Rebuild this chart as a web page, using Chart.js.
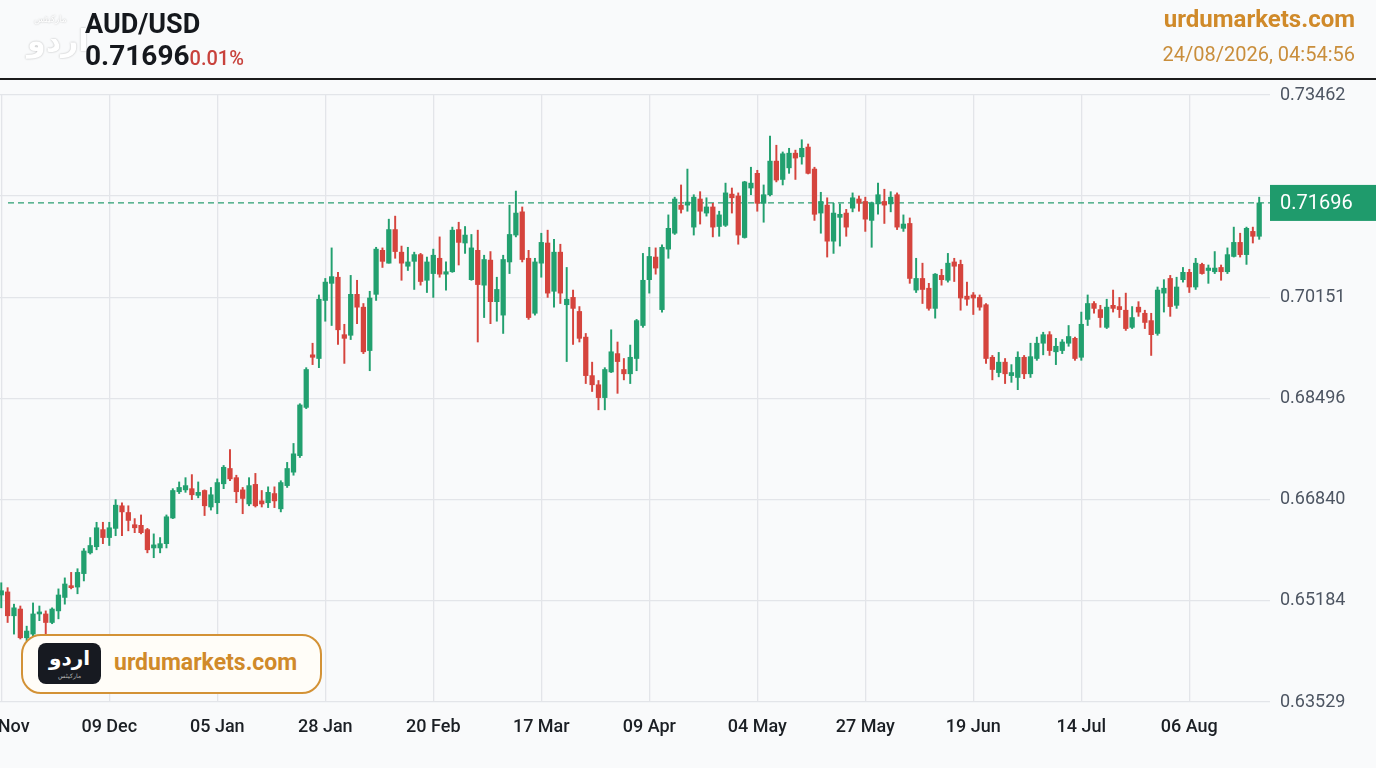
<!DOCTYPE html>
<html>
<head>
<meta charset="utf-8">
<script src="https://cdn.jsdelivr.net/npm/chart.js@4.4.1/dist/chart.umd.min.js"></script>
<style>
  html, body { margin: 0; padding: 0; background: #f9fafb; }
  body { width: 1376px; height: 768px; position: relative; overflow: hidden; font-family: Roboto, "Noto Sans", sans-serif; }
  #chart { position: absolute; left: 0; top: 0; }
  .abs { position: absolute; white-space: nowrap; }
  #logoTop { left: 27px; top: 14px; width: 46px; text-align: center; color: #ffffff; text-shadow: 0 0 2px rgba(0,0,0,0.3); }
  #logoTop i { display: block; font: normal 9px "Noto Sans", sans-serif; line-height: 10px; }
  #logoTop b { display: block; font: 700 30px "Noto Sans", "DejaVu Sans", sans-serif; line-height: 32px; }
  #pair { left: 85px; top: 8px; font-weight: 700; font-size: 27px; color: #15181d; }
  #price { left: 85px; top: 39px; font-weight: 700; font-size: 28px; color: #15181d; }
  #price span { font-size: 20px; font-weight: 500; color: #c8423c; }
  #rule { left: 0; top: 78px; width: 1376px; height: 2px; background: #1c1c1c; }
  #site { right: 21px; top: 5px; font-weight: 700; font-size: 24px; color: #d08a2a; }
  #stamp { right: 21px; top: 42px; font-size: 20px; color: #c98e3c; }
  #badge { left: 21px; top: 634px; width: 297px; height: 56px; border: 2px solid #d39236; border-radius: 20px; background: #fffdf8; }
  #badge .mark { position: absolute; left: 15px; top: 7px; width: 63px; height: 41px; border-radius: 8px; background: #171a21; color: #fff; text-align: center; }
  #badge .mark b { display: block; font: 700 20px "Noto Sans", "DejaVu Sans", sans-serif; line-height: 30px; }
  #badge .mark i { display: block; font: normal 6px "Noto Sans", sans-serif; color: #bbb; line-height: 6px; }
  #badge .txt { position: absolute; left: 91px; top: 13px; font-weight: 700; font-size: 23px; color: #d08a2a; }
</style>
</head>
<body>
<canvas id="chart" width="1376" height="768"></canvas>
<div class="abs" id="logoTop"><i>مارکیٹس</i><b>اردو</b></div>
<div class="abs" id="pair">AUD/USD</div>
<div class="abs" id="price">0.71696<span>0.01%</span></div>
<div class="abs" id="rule"></div>
<div class="abs" id="site">urdumarkets.com</div>
<div class="abs" id="stamp">24/08/2026, 04:54:56</div>
<div class="abs" id="badge">
  <div class="mark"><b>اردو</b><i>مارکیٹس</i></div>
  <div class="txt">urdumarkets.com</div>
</div>

<script>
// daily candles, 14 Nov 2025 -> 21 Aug 2026
var opens = [
  0.6528, 0.6533, 0.6494, 0.6505, 0.6458, 0.6464, 0.6497, 0.6497, 0.6483, 0.6502,
  0.6524, 0.6543, 0.6541, 0.6563, 0.6597, 0.6607, 0.6635, 0.6622, 0.6637, 0.6674,
  0.6663, 0.6643, 0.6642, 0.6635, 0.6605, 0.6605, 0.6612, 0.6654, 0.6697, 0.6700,
  0.6702, 0.6691, 0.6699, 0.6672, 0.6679, 0.6710, 0.6735, 0.6720, 0.6700, 0.6677,
  0.6709, 0.6682, 0.6679, 0.6694, 0.6669, 0.6707, 0.6729, 0.6756, 0.6835, 0.6921,
  0.6915, 0.7010, 0.7038, 0.7048, 0.6954, 0.6953, 0.7020, 0.6999, 0.6928, 0.7020,
  0.7092, 0.7071, 0.7126, 0.7089, 0.7066, 0.7074, 0.7085, 0.7043, 0.7054, 0.7079,
  0.7053, 0.7057, 0.7126, 0.7104, 0.7044, 0.7092, 0.7035, 0.7076, 0.7008, 0.6986,
  0.7073, 0.7117, 0.7155, 0.7079, 0.6989, 0.7071, 0.7104, 0.7025, 0.7089, 0.7003,
  0.7015, 0.6992, 0.6950, 0.6887, 0.6872, 0.6851, 0.6893, 0.6923, 0.6897, 0.6890,
  0.6915, 0.6969, 0.7044, 0.7081, 0.6995, 0.7094, 0.7120, 0.7166, 0.7166, 0.7130,
  0.7176, 0.7153, 0.7163, 0.7131, 0.7133, 0.7184, 0.7181, 0.7113, 0.7194, 0.7218,
  0.7169, 0.7183, 0.7238, 0.7208, 0.7227, 0.7251, 0.7245, 0.7261, 0.7225, 0.7153,
  0.7166, 0.7107, 0.7146, 0.7153, 0.7161, 0.7176, 0.7172, 0.7141, 0.7168, 0.7172,
  0.7168, 0.7183, 0.7128, 0.7136, 0.7027, 0.7046, 0.7030, 0.6997, 0.7051, 0.7043,
  0.7073, 0.7069, 0.7017, 0.7019, 0.7015, 0.7003, 0.6917, 0.6892, 0.6909, 0.6887,
  0.6884, 0.6917, 0.6890, 0.6915, 0.6940, 0.6954, 0.6926, 0.6928, 0.6940, 0.6948,
  0.6917, 0.6979, 0.7005, 0.6995, 0.6966, 0.7002, 0.7000, 0.6994, 0.6966, 0.6999,
  0.6989, 0.6977, 0.6956, 0.7022, 0.7046, 0.7002, 0.7044, 0.7056, 0.7032, 0.7069,
  0.7059, 0.7057, 0.7064, 0.7057, 0.7082, 0.7105, 0.7085, 0.7123, 0.7115
];
var highs = [
  0.6548, 0.6540, 0.6513, 0.6510, 0.6477, 0.6515, 0.6510, 0.6502, 0.6507, 0.6538,
  0.6556, 0.6565, 0.6571, 0.6604, 0.6622, 0.6647, 0.6647, 0.6647, 0.6684, 0.6679,
  0.6674, 0.6653, 0.6659, 0.6637, 0.6628, 0.6622, 0.6659, 0.6702, 0.6713, 0.6720,
  0.6725, 0.6713, 0.6700, 0.6704, 0.6718, 0.6740, 0.6766, 0.6724, 0.6704, 0.6720,
  0.6727, 0.6699, 0.6705, 0.6705, 0.6715, 0.6745, 0.6776, 0.6841, 0.6900, 0.6940,
  0.7019, 0.7046, 0.7096, 0.7056, 0.6971, 0.7051, 0.7043, 0.7005, 0.7025, 0.7097,
  0.7096, 0.7143, 0.7148, 0.7099, 0.7097, 0.7089, 0.7087, 0.7081, 0.7094, 0.7114,
  0.7073, 0.7130, 0.7138, 0.7131, 0.7118, 0.7125, 0.7084, 0.7090, 0.7048, 0.7084,
  0.7166, 0.7189, 0.7163, 0.7092, 0.7079, 0.7120, 0.7125, 0.7110, 0.7102, 0.7064,
  0.7027, 0.7000, 0.6956, 0.6909, 0.6879, 0.6900, 0.6962, 0.6942, 0.6915, 0.6937,
  0.6979, 0.7087, 0.7097, 0.7096, 0.7101, 0.7150, 0.7179, 0.7199, 0.7225, 0.7183,
  0.7188, 0.7178, 0.7169, 0.7156, 0.7202, 0.7194, 0.7186, 0.7205, 0.7228, 0.7223,
  0.7199, 0.7279, 0.7264, 0.7253, 0.7259, 0.7256, 0.7273, 0.7266, 0.7228, 0.7187,
  0.7178, 0.7169, 0.7168, 0.7159, 0.7186, 0.7181, 0.7179, 0.7171, 0.7202, 0.7192,
  0.7188, 0.7186, 0.7150, 0.7145, 0.7079, 0.7071, 0.7038, 0.7054, 0.7061, 0.7087,
  0.7079, 0.7076, 0.7040, 0.7023, 0.7019, 0.7005, 0.6920, 0.6925, 0.6915, 0.6905,
  0.6926, 0.6920, 0.6940, 0.6950, 0.6958, 0.6959, 0.6948, 0.6946, 0.6969, 0.6950,
  0.6991, 0.7019, 0.7008, 0.7002, 0.7012, 0.7027, 0.7015, 0.7022, 0.7000, 0.7008,
  0.6994, 0.6989, 0.7032, 0.7044, 0.7051, 0.7048, 0.7064, 0.7061, 0.7079, 0.7071,
  0.7068, 0.7090, 0.7068, 0.7096, 0.7130, 0.7120, 0.7130, 0.7130, 0.7179
];
var lows = [
  0.6507, 0.6483, 0.6464, 0.6456, 0.6453, 0.6458, 0.6486, 0.6464, 0.6481, 0.6489,
  0.6513, 0.6538, 0.6530, 0.6551, 0.6595, 0.6602, 0.6612, 0.6609, 0.6625, 0.6625,
  0.6633, 0.6630, 0.6628, 0.6597, 0.6589, 0.6597, 0.6605, 0.6653, 0.6694, 0.6696,
  0.6684, 0.6687, 0.6658, 0.6667, 0.6661, 0.6702, 0.6715, 0.6679, 0.6661, 0.6674,
  0.6672, 0.6672, 0.6671, 0.6671, 0.6664, 0.6704, 0.6724, 0.6753, 0.6833, 0.6905,
  0.6900, 0.6976, 0.6969, 0.6938, 0.6907, 0.6946, 0.6972, 0.6923, 0.6895, 0.7010,
  0.7064, 0.7071, 0.7079, 0.7043, 0.7059, 0.7028, 0.7035, 0.7023, 0.7015, 0.7048,
  0.7027, 0.7056, 0.7068, 0.7087, 0.7043, 0.6942, 0.6982, 0.6972, 0.6976, 0.6956,
  0.7054, 0.7114, 0.7073, 0.6979, 0.6986, 0.7048, 0.7015, 0.6999, 0.7005, 0.6910,
  0.6938, 0.6942, 0.6874, 0.6861, 0.6831, 0.6831, 0.6892, 0.6858, 0.6880, 0.6874,
  0.6895, 0.6966, 0.7022, 0.7053, 0.6991, 0.7079, 0.7118, 0.7153, 0.7156, 0.7117,
  0.7135, 0.7148, 0.7114, 0.7115, 0.7131, 0.7153, 0.7102, 0.7112, 0.7183, 0.7156,
  0.7138, 0.7181, 0.7204, 0.7199, 0.7218, 0.7208, 0.7233, 0.7217, 0.7141, 0.7120,
  0.7081, 0.7087, 0.7099, 0.7115, 0.7155, 0.7156, 0.7123, 0.7097, 0.7151, 0.7136,
  0.7155, 0.7126, 0.7123, 0.7038, 0.7023, 0.7005, 0.6994, 0.6981, 0.7035, 0.7040,
  0.7041, 0.6994, 0.7002, 0.6987, 0.6994, 0.6907, 0.6880, 0.6885, 0.6874, 0.6876,
  0.6864, 0.6882, 0.6884, 0.6912, 0.6921, 0.6920, 0.6905, 0.6923, 0.6935, 0.6912,
  0.6912, 0.6969, 0.6989, 0.6966, 0.6964, 0.6991, 0.6982, 0.6961, 0.6964, 0.6984,
  0.6964, 0.6920, 0.6953, 0.6991, 0.6984, 0.6997, 0.7040, 0.7023, 0.7028, 0.7053,
  0.7038, 0.7054, 0.7043, 0.7054, 0.7081, 0.7081, 0.7069, 0.7104, 0.7110
];
var closes = [
  0.6535, 0.6494, 0.6507, 0.6458, 0.6469, 0.6497, 0.6500, 0.6483, 0.6505, 0.6528,
  0.6546, 0.6540, 0.6565, 0.6600, 0.6609, 0.6638, 0.6622, 0.6638, 0.6675, 0.6664,
  0.6650, 0.6638, 0.6630, 0.6602, 0.6610, 0.6612, 0.6656, 0.6699, 0.6704, 0.6707,
  0.6692, 0.6696, 0.6674, 0.6692, 0.6712, 0.6737, 0.6718, 0.6697, 0.6686, 0.6707,
  0.6674, 0.6677, 0.6696, 0.6682, 0.6712, 0.6735, 0.6759, 0.6839, 0.6897, 0.6917,
  0.7012, 0.7040, 0.7049, 0.6962, 0.6948, 0.7020, 0.6999, 0.6926, 0.7014, 0.7094,
  0.7074, 0.7126, 0.7090, 0.7071, 0.7073, 0.7085, 0.7041, 0.7073, 0.7084, 0.7053,
  0.7057, 0.7125, 0.7105, 0.7117, 0.7096, 0.7036, 0.7077, 0.7008, 0.7028, 0.7077,
  0.7118, 0.7153, 0.7077, 0.6982, 0.7073, 0.7105, 0.7022, 0.7089, 0.7022, 0.7012,
  0.6997, 0.6948, 0.6887, 0.6872, 0.6851, 0.6897, 0.6926, 0.6910, 0.6890, 0.6917,
  0.6977, 0.7043, 0.7082, 0.7063, 0.7097, 0.7128, 0.7176, 0.7159, 0.7171, 0.7179,
  0.7156, 0.7163, 0.7130, 0.7150, 0.7186, 0.7178, 0.7117, 0.7204, 0.7202, 0.7169,
  0.7183, 0.7238, 0.7207, 0.7250, 0.7251, 0.7243, 0.7259, 0.7218, 0.7151, 0.7172,
  0.7107, 0.7153, 0.7151, 0.7130, 0.7178, 0.7169, 0.7143, 0.7169, 0.7183, 0.7166,
  0.7179, 0.7130, 0.7135, 0.7046, 0.7046, 0.7028, 0.6997, 0.7053, 0.7044, 0.7071,
  0.7066, 0.7014, 0.7012, 0.7014, 0.6999, 0.6915, 0.6897, 0.6909, 0.6890, 0.6892,
  0.6917, 0.6890, 0.6918, 0.6940, 0.6954, 0.6928, 0.6935, 0.6942, 0.6951, 0.6915,
  0.6971, 0.7005, 0.6997, 0.6982, 0.6999, 0.6997, 0.6995, 0.6964, 0.6982, 0.6991,
  0.6974, 0.6954, 0.7027, 0.7030, 0.7000, 0.7032, 0.7056, 0.7032, 0.7071, 0.7054,
  0.7063, 0.7063, 0.7057, 0.7085, 0.7105, 0.7085, 0.7128, 0.7115, 0.71696
];

// x axis: one label every 17 trading days
var tickLabels = ['14 Nov', '09 Dec', '05 Jan', '28 Jan', '20 Feb', '17 Mar', '09 Apr', '04 May', '27 May', '19 Jun', '14 Jul', '06 Aug'];
var tickStep = 17;
// y axis
var yTicks = [0.63529, 0.65184, 0.66840, 0.68496, 0.70151, 0.71807, 0.73462];
var yTickLabels = ['0.63529', '0.65184', '0.66840', '0.68496', '0.70151', '0.71807', '0.73462'];
var lastPrice = 0.71696;

var UP = '#22a06f';
var DOWN = '#d5443d';

var colors = opens.map(function (o, i) { return closes[i] >= o ? UP : DOWN; });
var bodies = opens.map(function (o, i) { return { x: i, y: [o, closes[i]] }; });
var wicks = opens.map(function (o, i) { return { x: i, y: [lows[i], highs[i]] }; });

// dashed last-price line + price tag on the axis
var lastPricePlugin = {
  id: 'lastPrice',
  beforeDatasetsDraw: function (chart) {
    var ctx = chart.ctx, area = chart.chartArea;
    var y = chart.scales.y.getPixelForValue(lastPrice);
    ctx.save();
    ctx.strokeStyle = '#2a9d72';
    ctx.lineWidth = 1.3;
    ctx.setLineDash([6, 4]);
    ctx.beginPath();
    ctx.moveTo(area.left + 8, y);
    ctx.lineTo(area.right, y);
    ctx.stroke();
    ctx.restore();
  },
  afterDraw: function (chart) {
    var ctx = chart.ctx, area = chart.chartArea;
    var y = chart.scales.y.getPixelForValue(lastPrice);
    ctx.save();
    ctx.fillStyle = '#1f9b6c';
    ctx.fillRect(area.right, y - 18, chart.width - area.right, 36);
    ctx.fillStyle = '#ffffff';
    ctx.font = '20px Roboto';
    ctx.textBaseline = 'middle';
    ctx.fillText(lastPrice.toFixed(5), area.right + 10, y + 1);
    ctx.restore();
  }
};

new Chart(document.getElementById('chart').getContext('2d'), {
  type: 'bar',
  data: {
    datasets: [
      { data: wicks, backgroundColor: colors, barThickness: 1.3, grouped: false, order: 2 },
      { data: bodies, backgroundColor: colors, barThickness: 4.6, minBarLength: 2, grouped: false, order: 1 }
    ]
  },
  options: {
    responsive: false,
    animation: false,
    layout: { padding: { top: 95, left: 0, right: 0, bottom: 0 } },
    plugins: { legend: { display: false }, tooltip: { enabled: false } },
    scales: {
      x: {
        type: 'linear',
        min: -0.2,
        max: 199.7,
        offset: false,
        grid: { color: '#e3e5e9', lineWidth: 1.3, drawTicks: false, offset: false },
        border: { display: false },
        afterBuildTicks: function (scale) {
          scale.ticks = tickLabels.map(function (t, k) { return { value: k * tickStep }; });
        },
        afterFit: function (scale) { scale.paddingLeft = 0; scale.paddingRight = 0; scale.height = 66; },
        ticks: {
          autoSkip: false,
          maxRotation: 0,
          padding: 15,
          color: '#1b1f24',
          font: { family: 'Roboto', size: 18, weight: '500' },
          callback: function (v, k) { return tickLabels[k]; }
        }
      },
      y: {
        position: 'right',
        min: 0.63529,
        max: 0.73462,
        grid: { color: '#e3e5e9', lineWidth: 1.3, drawTicks: false },
        border: { display: false },
        afterBuildTicks: function (scale) {
          scale.ticks = yTicks.map(function (v) { return { value: v }; });
        },
        afterFit: function (scale) { scale.width = 106; scale.paddingTop = 0; scale.paddingBottom = 0; },
        ticks: {
          padding: 10,
          color: '#4d5562',
          font: { family: 'Roboto', size: 18 },
          callback: function (v, k) { return yTickLabels[k]; }
        }
      }
    }
  },
  plugins: [lastPricePlugin]
});
</script>
</body>
</html>
